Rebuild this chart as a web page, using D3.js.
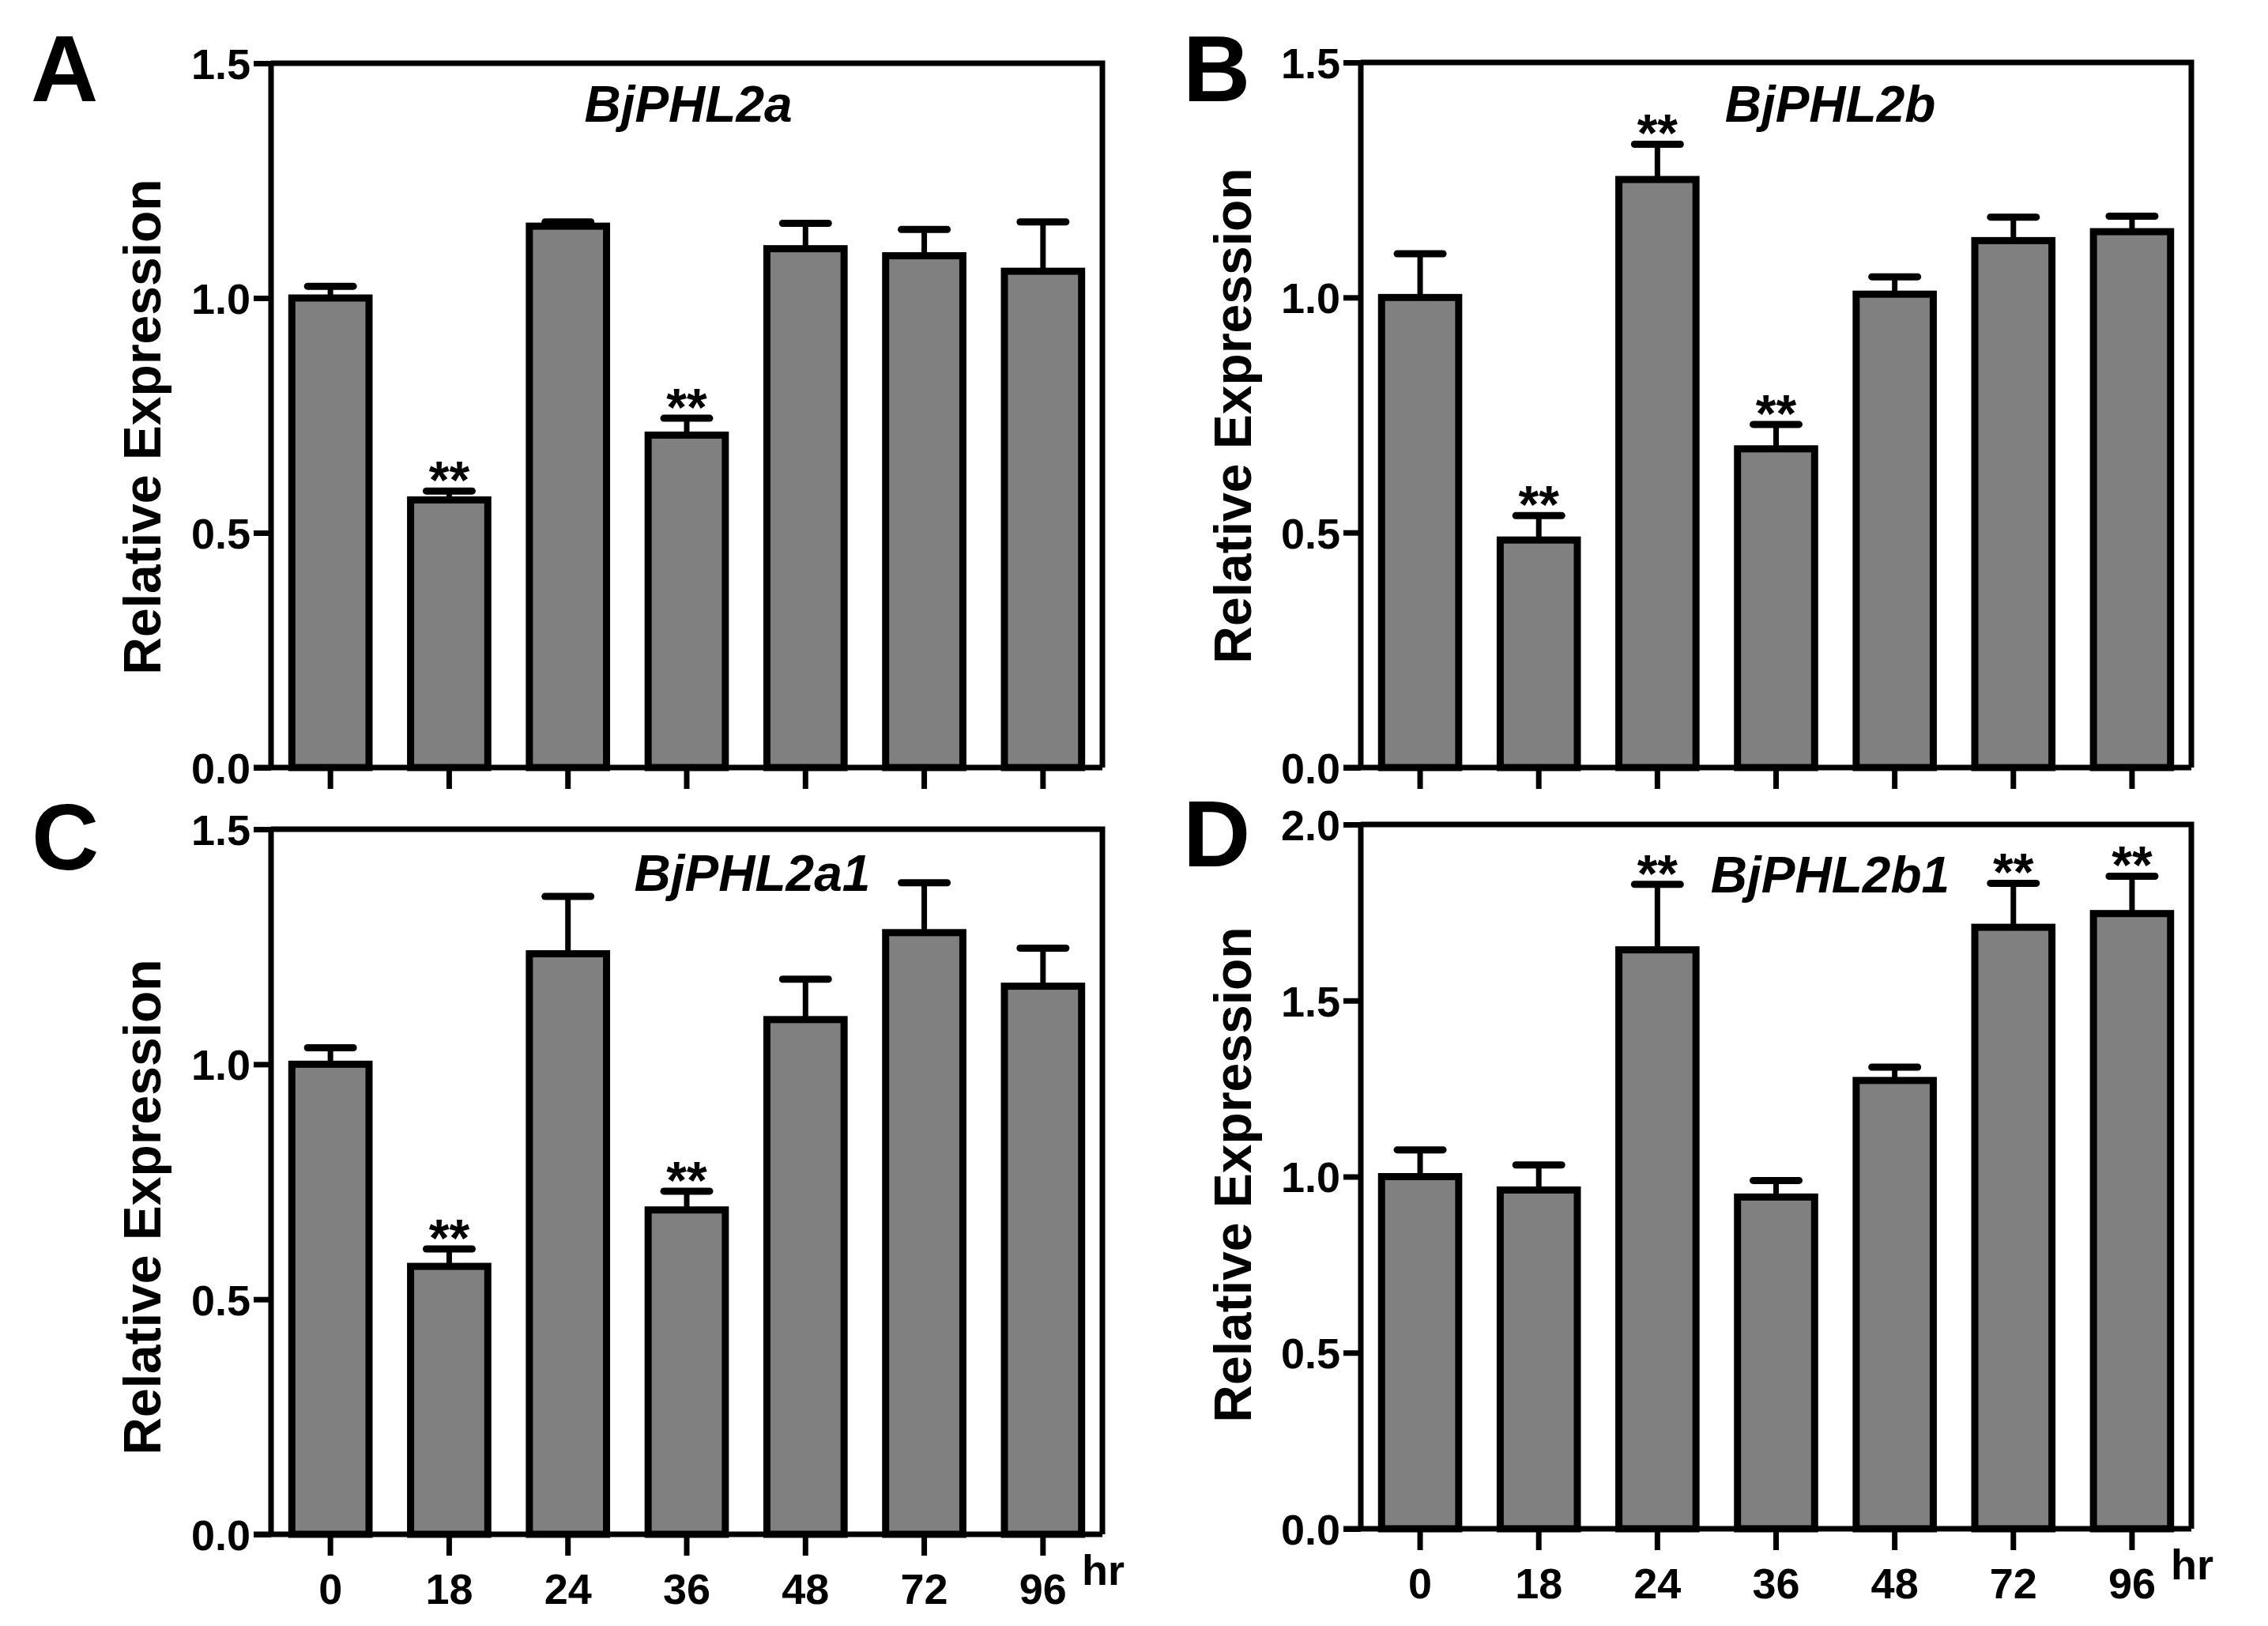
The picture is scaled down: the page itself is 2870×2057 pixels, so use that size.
<!DOCTYPE html>
<html>
<head>
<meta charset="utf-8">
<script src="https://cdn.jsdelivr.net/npm/d3@7"></script>
<style>
html,body{margin:0;padding:0;background:#fff;}
svg{display:block;}
text{font-family:"Liberation Sans",Arial,Helvetica,sans-serif;font-weight:bold;fill:#000;}
</style>
</head>
<body>
<svg id="chart" width="2870" height="2057"></svg>
<script>
// ---- data ----
const categories = ["0","18","24","36","48","72","96"];
const panelLetters = ["A","B","C","D"];
const geneNames = ["BjPHL2a","BjPHL2b","BjPHL2a1","BjPHL2b1"];
const yAxisTitle = "Relative Expression";
const xUnit = "hr";

const meansA = [1.00, 0.570, 1.153, 0.708, 1.105, 1.090, 1.057];
const errA   = [0.025, 0.019, 0.009, 0.036, 0.054, 0.056, 0.105];
const sigA   = ["", "**", "", "**", "", "", ""];

const meansB = [1.00, 0.484, 1.251, 0.678, 1.007, 1.121, 1.140];
const errB   = [0.093, 0.052, 0.075, 0.052, 0.037, 0.050, 0.033];
const sigB   = ["", "**", "**", "**", "", "", ""];

const meansC = [1.00, 0.570, 1.235, 0.690, 1.095, 1.280, 1.166];
const errC   = [0.035, 0.037, 0.122, 0.040, 0.086, 0.106, 0.081];
const sigC   = ["", "**", "", "**", "", "", ""];

const meansD = [1.00, 0.962, 1.644, 0.942, 1.273, 1.708, 1.747];
const errD   = [0.076, 0.071, 0.186, 0.047, 0.038, 0.125, 0.106];
const sigD   = ["", "", "**", "", "", "**", "**"];

const yTicks15 = [0, 0.5, 1.0, 1.5];
const yTicks20 = [0, 0.5, 1.0, 1.5, 2.0];

// ---- layout ----
const panels = [
  {letter: panelLetters[0], gene: geneNames[0], means: meansA, err: errA, sig: sigA, ticks: yTicks15, ymax: 1.5,
   left: 343, right: 1395, top: 80, bottom: 971, xLabels: false,
   letterX: 39, letterY: 128, titleX: 871, titleY: 154, yTitleX: 203, yTitleY: 540},
  {letter: panelLetters[1], gene: geneNames[1], means: meansB, err: errB, sig: sigB, ticks: yTicks15, ymax: 1.5,
   left: 1722, right: 2773, top: 79, bottom: 971, xLabels: false,
   letterX: 1497, letterY: 128, titleX: 2316, titleY: 154, yTitleX: 1583, yTitleY: 526},
  {letter: panelLetters[2], gene: geneNames[2], means: meansC, err: errC, sig: sigC, ticks: yTicks15, ymax: 1.5,
   left: 343, right: 1395, top: 1049, bottom: 1941, xLabels: true,
   letterX: 40, letterY: 1100, titleX: 952, titleY: 1127, yTitleX: 203, yTitleY: 1527},
  {letter: panelLetters[3], gene: geneNames[3], means: meansD, err: errD, sig: sigD, ticks: yTicks20, ymax: 2.0,
   left: 1722, right: 2773, top: 1043, bottom: 1934, xLabels: true,
   letterX: 1497, letterY: 1096, titleX: 2316, titleY: 1129, yTitleX: 1583, yTitleY: 1486}
];

const svg = d3.select("#chart");
const fmt = d3.format(".1f");

panels.forEach(p => {
  const g = svg.append("g");
  const x = d3.scaleBand().domain(categories).range([p.left, p.right]).paddingInner(0.35).paddingOuter(0.175);
  const y = d3.scaleLinear().domain([0, p.ymax]).range([p.bottom, p.top]);

  // bars
  g.selectAll("rect.bar").data(categories).enter().append("rect")
    .attr("class", "bar")
    .attr("x", c => x(c))
    .attr("width", x.bandwidth())
    .attr("y", (c, i) => y(p.means[i]))
    .attr("height", (c, i) => y(0) - y(p.means[i]))
    .attr("fill", "#808080")
    .attr("stroke", "#000")
    .attr("stroke-width", 9);

  // error bars (upper)
  const capW = 58;
  categories.forEach((c, i) => {
    const cx = x(c) + x.bandwidth() / 2;
    const top = y(p.means[i] + p.err[i]);
    g.append("line").attr("x1", cx).attr("x2", cx)
      .attr("y1", y(p.means[i])).attr("y2", top)
      .attr("stroke", "#000").attr("stroke-width", 7);
    g.append("line").attr("x1", cx - capW / 2).attr("x2", cx + capW / 2)
      .attr("y1", top).attr("y2", top)
      .attr("stroke", "#000").attr("stroke-width", 9).attr("stroke-linecap", "round");
    if (p.sig[i]) {
      g.append("text").attr("x", cx).attr("y", top + 9)
        .attr("text-anchor", "middle").attr("font-size", 66)
        .text(p.sig[i]);
    }
  });

  // frame (top and right)
  g.append("path")
    .attr("d", `M${p.left},${p.top}H${p.right}V${p.bottom}`)
    .attr("fill", "none").attr("stroke", "#000").attr("stroke-width", 7);

  // y axis
  const yAxis = d3.axisLeft(y).tickValues(p.ticks).tickFormat(fmt).tickSize(22).tickPadding(4);
  const ya = g.append("g").attr("transform", `translate(${p.left},0)`).call(yAxis);
  ya.select(".domain").attr("stroke-width", 7).attr("d", `M0,${p.bottom}V${p.top}`);
  ya.selectAll(".tick line").attr("stroke-width", 7);
  ya.selectAll(".tick text").attr("font-size", 54).attr("font-family", null).attr("dy", "0.36em");

  // x axis
  const xAxis = d3.axisBottom(x).tickSize(27).tickPadding(12).tickSizeOuter(0);
  const xa = g.append("g").attr("transform", `translate(0,${p.bottom})`).call(xAxis);
  xa.select(".domain").attr("stroke-width", 7).attr("d", `M${p.left - 22},0H${p.right}`);
  xa.selectAll(".tick line").attr("stroke-width", 7);
  xa.selectAll(".tick text").attr("font-size", 54).attr("font-family", null)
    .attr("dy", "0.9em")
    .style("display", p.xLabels ? null : "none");
  xa.attr("font-family", null).attr("font-size", null);
  ya.attr("font-family", null).attr("font-size", null);

  if (p.xLabels) {
    g.append("text").attr("x", p.right - 26).attr("y", p.bottom + 64)
      .attr("font-size", 54).text(xUnit);
  }

  // gene title
  g.append("text").attr("x", p.titleX).attr("y", p.titleY)
    .attr("text-anchor", "middle").attr("font-size", 64).attr("font-style", "italic")
    .text(p.gene);

  // y title
  g.append("text").attr("transform", `translate(${p.yTitleX},${p.yTitleY}) rotate(-90)`)
    .attr("text-anchor", "middle").attr("font-size", 66)
    .text(yAxisTitle);

  // panel letter
  g.append("text").attr("x", p.letterX).attr("y", p.letterY)
    .attr("font-size", 118).text(p.letter);
});
</script>
</body>
</html>
